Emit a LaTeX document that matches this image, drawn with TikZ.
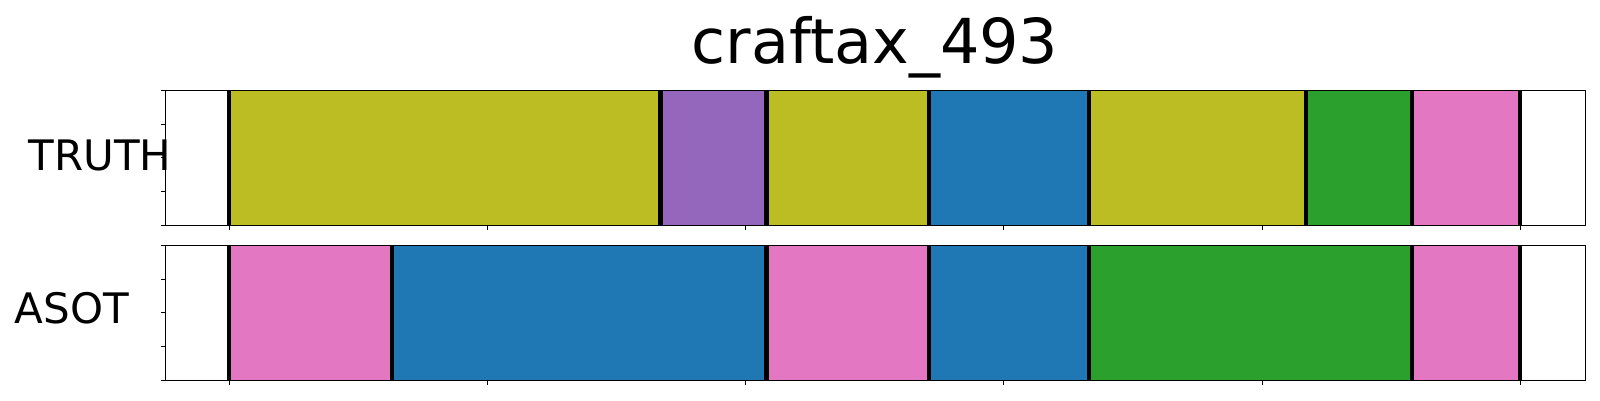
\documentclass[tikz,border=0pt]{standalone}
\usepackage{fontspec}
\setmainfont{DejaVu Sans}
\definecolor{tabolive}{HTML}{BCBD22}
\definecolor{tabpurple}{HTML}{9467BD}
\definecolor{tabblue}{HTML}{1F77B4}
\definecolor{tabgreen}{HTML}{2CA02C}
\definecolor{tabpink}{HTML}{E377C2}
\tikzset{
  segline/.style={line width=4.3pt, black},
  frame/.style={line width=1.1pt, black},
  tickline/.style={line width=0.9pt, black},
  lbl/.style={font=\fontsize{42}{42}\selectfont, inner sep=0pt, anchor=base west},
  ttl/.style={font=\fontsize{62}{62}\selectfont, inner sep=0pt, anchor=base},
}
\newcommand\ux[1]{229.3+#1*2.582}
% \segfill{top y}{bottom y}{from}{to}{colour}
\newcommand\segfill[5]{\fill[#5] ({\ux{#3}},#1) rectangle ({\ux{#4}},#2);}
\begin{document}
\begin{tikzpicture}[x=1pt,y=-1pt]
\useasboundingbox (0,0) rectangle (1600,400);
\fill[white] (0,0) rectangle (1600,400);
% ---- TRUTH row ----
\segfill{90.3}{225.3}{0}{167}{tabolive}
\segfill{90.3}{225.3}{167}{208}{tabpurple}
\segfill{90.3}{225.3}{208}{271}{tabolive}
\segfill{90.3}{225.3}{271}{333}{tabblue}
\segfill{90.3}{225.3}{333}{417}{tabolive}
\segfill{90.3}{225.3}{417}{458}{tabgreen}
\segfill{90.3}{225.3}{458}{500}{tabpink}
\foreach \b in {0,167,208,271,333,417,458,500}
  \draw[segline] ({\ux{\b}},90.3) -- ({\ux{\b}},225.3);
% ---- ASOT row ----
\segfill{245.3}{380.3}{0}{63}{tabpink}
\segfill{245.3}{380.3}{63}{208}{tabblue}
\segfill{245.3}{380.3}{208}{271}{tabpink}
\segfill{245.3}{380.3}{271}{333}{tabblue}
\segfill{245.3}{380.3}{333}{458}{tabgreen}
\segfill{245.3}{380.3}{458}{500}{tabpink}
\foreach \b in {0,63,208,271,333,458,500}
  \draw[segline] ({\ux{\b}},245.3) -- ({\ux{\b}},380.3);
% ---- frames and ticks ----
\foreach \ya/\yb in {90.3/225.3, 245.3/380.3} {
  \draw[frame] (165.8,\ya) rectangle (1585.5,\yb);
  \foreach \t in {0,100,...,500}
    \draw[tickline] ({\ux{\t}},\yb) -- ({\ux{\t}},\yb+5);
  \foreach \f in {0,0.25,0.5,0.75,1}
    \draw[tickline] (165.8,{\ya+\f*(\yb-\ya)}) -- (160.7,{\ya+\f*(\yb-\ya)});
}
% ---- labels ----
\node[ttl] (title) at (875,63.3) {craftax\_493};
\node[lbl] (truth) at (28.5,170) {TRUTH};
\node[lbl] (asot) at (14.5,323.3) {ASOT};
\end{tikzpicture}
\end{document}
